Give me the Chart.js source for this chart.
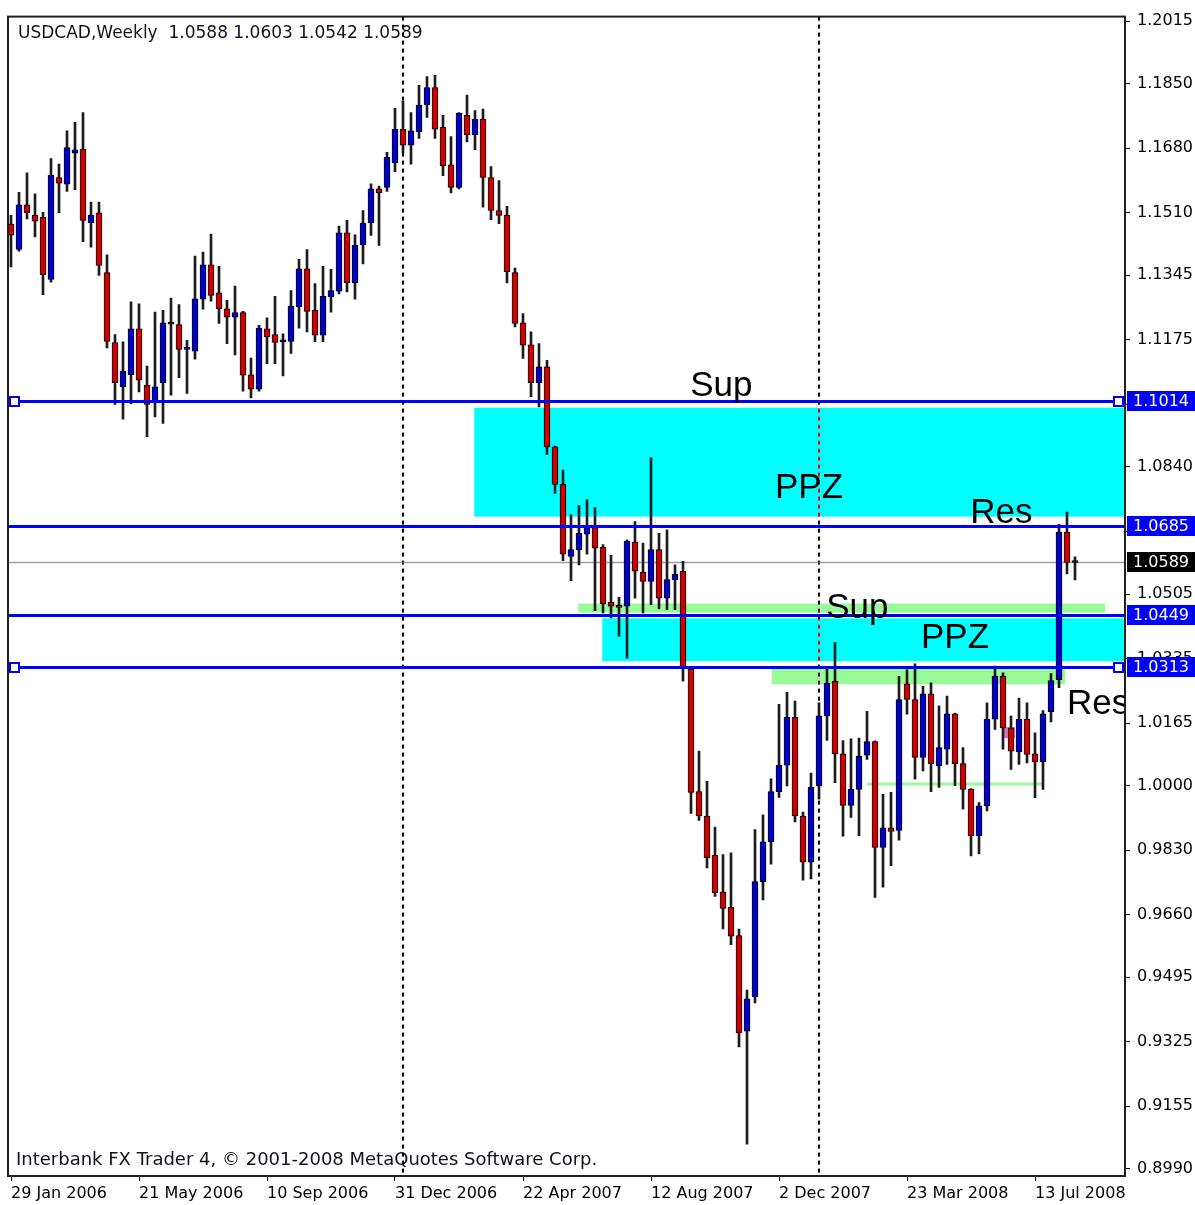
<!DOCTYPE html>
<html>
<head>
<meta charset="utf-8">
<title>USDCAD, Weekly</title>
<script src="https://cdn.jsdelivr.net/npm/chart.js@4.4.0/dist/chart.umd.min.js"></script>
<style>
  html, body { margin: 0; padding: 0; background: #fff; }
  #wrap { width: 1195px; height: 1205px; }
</style>
</head>
<body>
<div id="wrap"><canvas id="chart" width="1195" height="1205"></canvas></div>
<script>
// weekly candles, index 0 = week of 29 Jan 2006
const opens = [
  1.1480, 1.1413, 1.1531, 1.1504, 1.1498, 1.1334, 1.1603, 1.1585, 1.1667, 1.1678,
  1.1483, 1.1510, 1.1352, 1.1168, 1.1051, 1.1083, 1.1204, 1.1056, 1.1010, 1.1062,
  1.1218, 1.1215, 1.1150, 1.1145, 1.1282, 1.1373, 1.1299, 1.1257, 1.1235, 1.1247,
  1.1083, 1.1045, 1.1204, 1.1189, 1.1170, 1.1171, 1.1262, 1.1362, 1.1253, 1.1187,
  1.1288, 1.1303, 1.1457, 1.1325, 1.1425, 1.1483, 1.1573, 1.1577, 1.1641, 1.1730,
  1.1688, 1.1724, 1.1794, 1.1840, 1.1735, 1.1636, 1.1577, 1.1767, 1.1715, 1.1757,
  1.1603, 1.1516, 1.1504, 1.1352, 1.1220, 1.1162, 1.1062, 1.1104, 1.0893, 1.0794,
  1.0604, 1.0622, 1.0663, 1.0680, 1.0628, 1.0484, 1.0472, 1.0473, 1.0642, 1.0563,
  1.0538, 1.0622, 1.0494, 1.0543, 1.0565, 1.0308, 0.9984, 0.9920, 0.9816, 0.9720,
  0.9679, 0.9605, 0.9353, 0.9444, 0.9747, 0.9852, 0.9984, 1.0054, 1.0180, 0.9920,
  0.9798, 0.9999, 1.0184, 1.0275, 1.0084, 0.9948, 0.9990, 1.0080, 1.0116, 0.9837,
  0.9889, 0.9882, 1.0268, 1.0227, 1.0074, 1.0242, 1.0052, 1.0096, 1.0189, 1.0058,
  0.9990, 0.9868, 0.9947, 1.0175, 1.0288, 1.0152, 1.0089, 1.0175, 1.0084, 1.0063,
  1.0195, 1.0279, 1.0668, 1.0588
];
const highs = [
  1.1503, 1.1564, 1.1615, 1.1560, 1.1511, 1.1653, 1.1638, 1.1726, 1.1748, 1.1774,
  1.1538, 1.1538, 1.1399, 1.1189, 1.1170, 1.1275, 1.1270, 1.1106, 1.1248, 1.1253,
  1.1285, 1.1268, 1.1174, 1.1396, 1.1406, 1.1454, 1.1369, 1.1279, 1.1317, 1.1250,
  1.1127, 1.1213, 1.1233, 1.1290, 1.1191, 1.1305, 1.1387, 1.1413, 1.1323, 1.1369,
  1.1361, 1.1475, 1.1490, 1.1452, 1.1516, 1.1586, 1.1580, 1.1669, 1.1785, 1.1805,
  1.1774, 1.1846, 1.1869, 1.1872, 1.1767, 1.1711, 1.1774, 1.1820, 1.1779, 1.1783,
  1.1632, 1.1595, 1.1527, 1.1364, 1.1244, 1.1196, 1.1165, 1.1121, 1.0895, 1.0832,
  1.0714, 1.0738, 1.0753, 1.0733, 1.0635, 1.0607, 1.0496, 1.0648, 1.0696, 1.0639,
  1.0864, 1.0665, 1.0674, 1.0582, 1.0591, 1.0310, 1.0091, 1.0011, 0.9891, 0.9818,
  0.9823, 0.9622, 0.9461, 0.9884, 0.9923, 1.0018, 1.0214, 1.0246, 1.0223, 0.9930,
  1.0033, 1.0218, 1.0308, 1.0377, 1.0119, 1.0123, 1.0125, 1.0196, 1.0118, 0.9977,
  0.9982, 1.0288, 1.0306, 1.0321, 1.0262, 1.0271, 1.0210, 1.0236, 1.0191, 1.0100,
  0.9992, 0.9955, 1.0218, 1.0315, 1.0297, 1.0183, 1.0231, 1.0218, 1.0139, 1.0198,
  1.0295, 1.0689, 1.0721, 1.0603
];
const lows = [
  1.1367, 1.1409, 1.1494, 1.1446, 1.1294, 1.1327, 1.1510, 1.1566, 1.1571, 1.1434,
  1.1419, 1.1345, 1.1154, 1.1005, 1.0966, 1.1007, 1.1038, 1.0920, 1.0972, 1.0955,
  1.1029, 1.1075, 1.1034, 1.1124, 1.1256, 1.1277, 1.1218, 1.1165, 1.1135, 1.1040,
  1.1022, 1.1040, 1.1112, 1.1112, 1.1080, 1.1139, 1.1206, 1.1196, 1.1170, 1.1170,
  1.1248, 1.1296, 1.1301, 1.1282, 1.1375, 1.1450, 1.1424, 1.1566, 1.1618, 1.1667,
  1.1638, 1.1706, 1.1761, 1.1706, 1.1608, 1.1562, 1.1573, 1.1697, 1.1676, 1.1525,
  1.1492, 1.1481, 1.1325, 1.1209, 1.1126, 1.1025, 1.0998, 1.0873, 1.0770, 1.0593,
  1.0540, 1.0582, 1.0610, 1.0461, 1.0455, 1.0442, 1.0394, 1.0336, 1.0494, 1.0455,
  1.0477, 1.0466, 1.0464, 1.0464, 1.0275, 0.9927, 0.9908, 0.9783, 0.9708, 0.9622,
  0.9581, 0.9311, 0.9055, 0.9427, 0.9699, 0.9793, 0.9969, 0.9999, 0.9904, 0.9751,
  0.9754, 0.9964, 1.0119, 1.0008, 0.9867, 0.9916, 0.9868, 1.0069, 0.9705, 0.9732,
  0.9789, 0.9856, 1.0188, 1.0017, 1.0039, 0.9984, 0.9995, 1.0056, 1.0000, 0.9938,
  0.9815, 0.9820, 0.9933, 1.0148, 1.0096, 1.0043, 1.0056, 1.0060, 0.9968, 0.9990,
  1.0168, 1.0258, 1.0558, 1.0542
];
const closes = [
  1.1451, 1.1531, 1.1510, 1.1488, 1.1346, 1.1609, 1.1588, 1.1682, 1.1676, 1.1490,
  1.1504, 1.1371, 1.1171, 1.1062, 1.1092, 1.1204, 1.1069, 1.1005, 1.1051, 1.1220,
  1.1216, 1.1150, 1.1152, 1.1283, 1.1373, 1.1292, 1.1257, 1.1235, 1.1247, 1.1082,
  1.1045, 1.1206, 1.1183, 1.1168, 1.1172, 1.1264, 1.1362, 1.1250, 1.1187, 1.1290,
  1.1305, 1.1457, 1.1325, 1.1425, 1.1483, 1.1573, 1.1562, 1.1656, 1.1730, 1.1688,
  1.1726, 1.1794, 1.1840, 1.1730, 1.1634, 1.1577, 1.1773, 1.1715, 1.1757, 1.1603,
  1.1516, 1.1503, 1.1355, 1.1218, 1.1161, 1.1062, 1.1104, 1.0893, 1.0794, 1.0610,
  1.0622, 1.0665, 1.0680, 1.0626, 1.0479, 1.0473, 1.0470, 1.0644, 1.0565, 1.0538,
  1.0622, 1.0494, 1.0543, 1.0557, 1.0308, 0.9982, 0.9920, 0.9810, 0.9718, 0.9676,
  0.9603, 0.9348, 0.9438, 0.9747, 0.9852, 0.9984, 1.0054, 1.0180, 0.9920, 0.9798,
  0.9996, 1.0184, 1.0270, 1.0084, 0.9948, 0.9990, 1.0078, 1.0116, 0.9837, 0.9889,
  0.9879, 1.0227, 1.0227, 1.0074, 1.0242, 1.0058, 1.0100, 1.0189, 1.0058, 0.9990,
  0.9868, 0.9947, 1.0175, 1.0288, 1.0152, 1.0091, 1.0175, 1.0082, 1.0063, 1.0189,
  1.0277, 1.0668, 1.0588, 1.0589
];

const dateTicks = [0, 16, 32, 48, 64, 80, 96, 112, 128];
const dateLabels = ['29 Jan 2006', '21 May 2006', '10 Sep 2006', '31 Dec 2006', '22 Apr 2007',
  '12 Aug 2007', '2 Dec 2007', '23 Mar 2008', '13 Jul 2008'];
const priceTicks = [1.2015, 1.1850, 1.1680, 1.1510, 1.1345, 1.1175, 1.1005, 1.0840, 1.0670,
  1.0505, 1.0335, 1.0165, 1.0000, 0.9830, 0.9660, 0.9495, 0.9325, 0.9155, 0.8990];

// drawn objects (time index / price)
const levelLines = [1.1014, 1.0685, 1.0449, 1.0313];
const anchoredLevels = [1.1014, 1.0313];
const anchorTimes = [0.4, 138.4];
const bidPrice = 1.0589;
const yearSeparators = [49, 101];
const ppzZones = [[57.9, 1.0996, 1.0709], [73.9, 1.0441, 1.0328]];          // start, upper, lower
const greenBands = [[70.9, 136.75, 1.0480, 1.0456], [95.1, 131.75, 1.0309, 1.0267]];
const greenLine = [107, 128.9, 1.0004];
const pinkMark = [124.0, 125.5, 1.0154, 1.0125];
const zoneLabels = [['Sup', 84.9, 1.1028], ['PPZ', 95.5, 1.0757], ['Res', 119.9, 1.0691],
  ['Sup', 101.9, 1.0441], ['PPZ', 113.75, 1.0362], ['Res', 132, 1.0188]];
const headerText = 'USDCAD,Weekly  1.0588 1.0603 1.0542 1.0589';
const footerText = 'Interbank FX Trader 4, \u00A9 2001-2008 MetaQuotes Software Corp.';

const BULL = '#0000d0';
const BEAR = '#d00000';
const AXIS_FONT = { family: 'DejaVu Sans', size: 16 };

const idx = opens.map((_, i) => i);

const mt4Plugin = {
  id: 'mt4',
  beforeDraw(chart) {
    const c = chart.ctx;
    c.save();
    c.fillStyle = '#fff';
    c.fillRect(0, 0, chart.width, chart.height);
    c.restore();
  },
  beforeDatasetsDraw(chart) {
    const { ctx, chartArea: a, scales: { x, y } } = chart;
    ctx.save();
    ctx.beginPath();
    ctx.rect(a.left, a.top, a.right - a.left, a.bottom - a.top);
    ctx.clip();

    ctx.fillStyle = '#00ffff';
    ppzZones.forEach(([from, upper, lower]) => {
      const x0 = x.getPixelForValue(from);
      const y0 = y.getPixelForValue(upper);
      ctx.fillRect(x0, y0, a.right - x0, y.getPixelForValue(lower) - y0);
    });

    ctx.fillStyle = '#98fb98';
    greenBands.forEach(([from, to, upper, lower]) => {
      const x0 = x.getPixelForValue(from);
      const y0 = y.getPixelForValue(upper);
      ctx.fillRect(x0, y0, x.getPixelForValue(to) - x0, y.getPixelForValue(lower) - y0);
    });
    ctx.strokeStyle = '#98fb98';
    ctx.lineWidth = 3;
    ctx.beginPath();
    ctx.moveTo(x.getPixelForValue(greenLine[0]), y.getPixelForValue(greenLine[2]));
    ctx.lineTo(x.getPixelForValue(greenLine[1]), y.getPixelForValue(greenLine[2]));
    ctx.stroke();

    ctx.fillStyle = '#e070c0';
    {
      const x0 = x.getPixelForValue(pinkMark[0]);
      const y0 = y.getPixelForValue(pinkMark[2]);
      ctx.fillRect(x0, y0, x.getPixelForValue(pinkMark[1]) - x0, y.getPixelForValue(pinkMark[3]) - y0);
    }

    // bid line
    ctx.strokeStyle = '#a0a0a0';
    ctx.lineWidth = 1.5;
    const by = Math.round(y.getPixelForValue(bidPrice)) + 0.5;
    ctx.beginPath();
    ctx.moveTo(a.left, by);
    ctx.lineTo(a.right, by);
    ctx.stroke();

    // period separators (inverted dotted lines like the terminal)
    ctx.globalCompositeOperation = 'difference';
    ctx.strokeStyle = '#fff';
    ctx.lineWidth = 2;
    ctx.setLineDash([4, 4]);
    yearSeparators.forEach(t => {
      const px = Math.round(x.getPixelForValue(t));
      ctx.beginPath();
      ctx.moveTo(px, a.top);
      ctx.lineTo(px, a.bottom);
      ctx.stroke();
    });
    ctx.restore();
  },
  afterDatasetsDraw(chart) {
    const { ctx, chartArea: a, scales: { x, y } } = chart;
    ctx.save();
    ctx.beginPath();
    ctx.rect(a.left, a.top, a.right - a.left, a.bottom - a.top);
    ctx.clip();

    ctx.strokeStyle = '#0000ff';
    ctx.lineWidth = 3;
    levelLines.forEach(p => {
      const py = Math.round(y.getPixelForValue(p)) + 0.5;
      ctx.beginPath();
      ctx.moveTo(a.left, py);
      ctx.lineTo(a.right, py);
      ctx.stroke();
    });

    ctx.lineWidth = 2;
    anchoredLevels.forEach(p => {
      const py = Math.round(y.getPixelForValue(p));
      anchorTimes.forEach(t => {
        const px = Math.round(x.getPixelForValue(t));
        ctx.fillStyle = '#fff';
        ctx.fillRect(px - 4, py - 4, 9, 9);
        ctx.strokeRect(px - 4, py - 4, 9, 9);
      });
    });

    ctx.fillStyle = '#000';
    ctx.textBaseline = 'alphabetic';
    ctx.textAlign = 'left';
    ctx.font = '35px "Liberation Sans", Arial, sans-serif';
    zoneLabels.forEach(([txt, t, p]) => {
      ctx.fillText(txt, x.getPixelForValue(t), y.getPixelForValue(p));
    });

    ctx.textBaseline = 'middle';
    ctx.fillStyle = '#101020';
    ctx.font = '17px "DejaVu Sans", sans-serif';
    ctx.fillText(headerText, a.left + 10, a.top + 17);
    ctx.font = '18px "DejaVu Sans", sans-serif';
    ctx.fillText(footerText, a.left + 8, a.bottom - 16);
    ctx.restore();
  },
  afterDraw(chart) {
    const { ctx, chartArea: a, scales: { y } } = chart;
    ctx.save();
    ctx.strokeStyle = '#202020';
    ctx.lineWidth = 2;
    ctx.strokeRect(a.left, a.top, a.right - a.left, a.bottom - a.top);

    ctx.font = '16px "DejaVu Sans", sans-serif';
    ctx.textBaseline = 'middle';
    ctx.textAlign = 'left';
    const box = (p, color) => {
      const py = Math.round(y.getPixelForValue(p));
      ctx.fillStyle = color;
      ctx.fillRect(a.right + 2, py - 10, chart.width - a.right - 2, 20);
      ctx.fillStyle = '#fff';
      ctx.fillText(p.toFixed(4), a.right + 8, py + 1);
    };
    levelLines.forEach(p => box(p, '#0000ff'));
    box(bidPrice, '#000');
    ctx.restore();
  }
};

new Chart(document.getElementById('chart').getContext('2d'), {
  type: 'bar',
  data: {
    datasets: [
      {
        label: 'Body',
        data: idx.map(i => ({ x: i, y: [opens[i], closes[i]] })),
        backgroundColor: idx.map(i => closes[i] >= opens[i] ? BULL : BEAR),
        borderColor: '#000',
        borderWidth: 1,
        borderSkipped: false,
        barThickness: 6,
        minBarLength: 2,
        grouped: false,
        order: 0
      },
      {
        label: 'Range',
        data: idx.map(i => ({ x: i, y: [lows[i], highs[i]] })),
        backgroundColor: '#1c1c1c',
        borderWidth: 0,
        barThickness: 2,
        grouped: false,
        order: 1
      }
    ]
  },
  options: {
    responsive: false,
    animation: false,
    devicePixelRatio: 1,
    layout: { padding: { left: 8, top: 14, right: 0, bottom: 0 } },
    plugins: { legend: { display: false }, tooltip: { enabled: false } },
    scales: {
      x: {
        type: 'linear',
        position: 'bottom',
        min: -0.375,
        max: 139.25,
        offset: false,
        afterBuildTicks: s => { s.ticks = dateTicks.map(v => ({ value: v })); },
        afterFit: s => { s.height = 29; },
        grid: { offset: false, drawOnChartArea: false, tickLength: 5, color: '#000' },
        border: { display: true, color: '#000', width: 2 },
        ticks: {
          autoSkip: false,
          maxRotation: 0,
          align: 'start',
          padding: 3,
          color: '#000',
          font: AXIS_FONT,
          callback: (v, i) => dateLabels[i]
        }
      },
      y: {
        type: 'linear',
        position: 'right',
        min: 0.8971,
        max: 1.2027,
        afterBuildTicks: s => { s.ticks = priceTicks.map(v => ({ value: v })); },
        afterFit: s => { s.width = 70; },
        grid: { drawOnChartArea: false, tickLength: 5, color: '#000' },
        border: { display: true, color: '#000', width: 2 },
        ticks: {
          autoSkip: false,
          padding: 7,
          color: '#000',
          font: AXIS_FONT,
          callback: v => v.toFixed(4)
        }
      }
    }
  },
  plugins: [mt4Plugin]
});
</script>
</body>
</html>
